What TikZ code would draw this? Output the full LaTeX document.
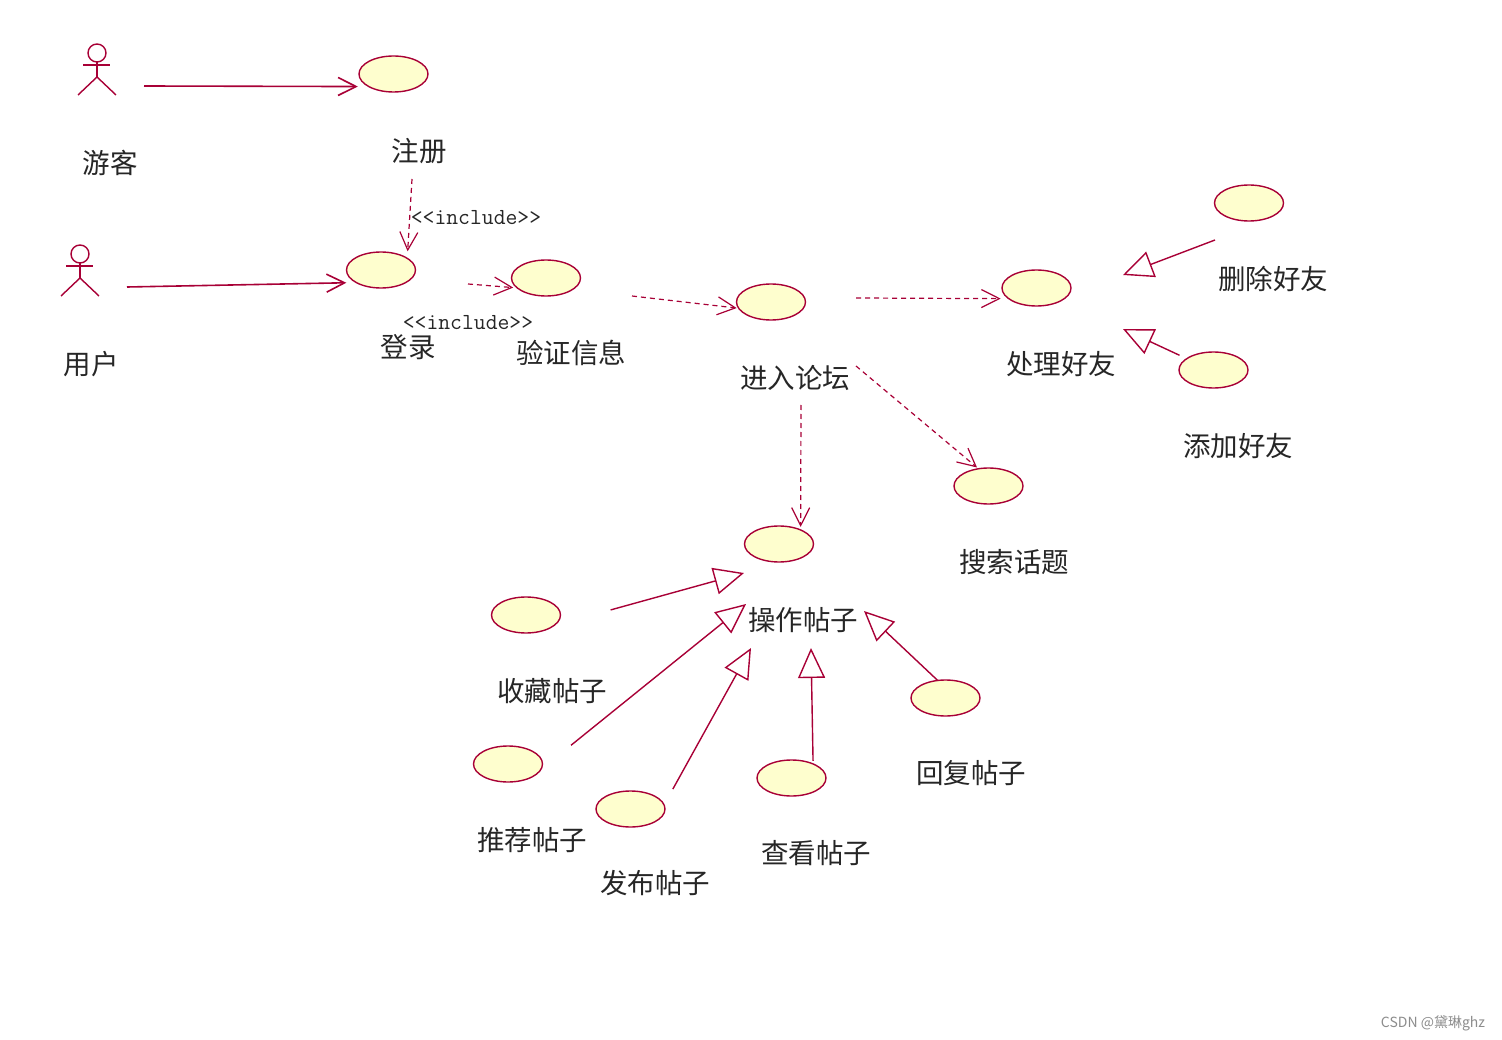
\documentclass[tikz,border=0pt]{standalone}
\usepackage{fontspec}
\newfontfamily\cjk{Noto Sans CJK SC}
\usepackage{xcolor}
\usetikzlibrary{arrows.meta}
\usetikzlibrary{shapes.geometric}
\definecolor{umlred}{HTML}{A80036}
\definecolor{umlfill}{HTML}{FEFECE}
\begin{document}
\begin{tikzpicture}[x=1pt,y=1pt]
\tikzset{umlline/.style={draw=umlred,line width=1.4pt}}
\tikzset{usecase/.style={ellipse,umlline,fill=umlfill,minimum width=69pt,minimum height=36pt,inner sep=0pt,outer sep=0pt}}
\tikzset{head/.style={circle,umlline,minimum size=18pt,inner sep=0pt,outer sep=0pt}}
\tikzset{caption/.style={inner sep=0pt,text=black!85,font=\fontsize{27.5}{27.5}\selectfont\cjk}}
\tikzset{stereo/.style={inner sep=0pt,text=black!85,font=\fontsize{23}{23}\selectfont\ttfamily}}
\tikzset{assoc/.style={color=umlred,line width=1.6pt,-{Straight Barb[length=18pt,width=18pt]}}}
\tikzset{dep/.style={assoc,dash pattern=on 5pt off 4pt,line width=1.2pt}}
\tikzset{gen/.style={color=umlred,line width=1.4pt,-{Triangle[open,length=30pt,width=27pt]}}}
\useasboundingbox (0,0) rectangle (1502,-1040);
\foreach \n/\x/\y in {visitor/97/-53,member/80/-254}{
  \node[head] (\n) at (\x,\y) {};
  \draw[umlline] (\n.south) -- ++(0,-15) coordinate (\n b);
  \draw[umlline] (\x-14,\y-12) -- (\x+13,\y-12);
  \draw[umlline] (\n b) -- ++(-19,-18) (\n b) -- ++(19,-18);
}
\node[usecase] (reg) at (393.5,-74) {};
\node[usecase] (login) at (381,-270) {};
\node[usecase] (verify) at (546,-278) {};
\node[usecase] (forum) at (771,-302) {};
\node[usecase] (friend) at (1036.5,-288) {};
\node[usecase] (del) at (1249,-203) {};
\node[usecase] (add) at (1213.5,-370) {};
\node[usecase] (search) at (988.5,-486) {};
\node[usecase] (post) at (779,-544) {};
\node[usecase] (fav) at (526,-615) {};
\node[usecase] (rec) at (508,-764) {};
\node[usecase] (pub) at (630.5,-809) {};
\node[usecase] (view) at (791.5,-778) {};
\node[usecase] (reply) at (945.5,-698) {};
\node[caption] (t0) at (110,-163) {游客};
\node[caption] (t1) at (419,-151) {注册};
\node[caption] (t2) at (91,-364) {用户};
\node[caption] (t3) at (408,-347) {登录};
\node[caption] (t4) at (571,-353) {验证信息};
\node[caption] (t5) at (795,-378) {进入论坛};
\node[caption] (t6) at (1061,-364) {处理好友};
\node[caption] (t7) at (1273,-279) {删除好友};
\node[caption] (t8) at (1238,-446) {添加好友};
\node[caption] (t9) at (1014,-562) {搜索话题};
\node[caption] (t10) at (803,-620) {操作帖子};
\node[caption] (t11) at (552,-691) {收藏帖子};
\node[caption] (t12) at (532,-840) {推荐帖子};
\node[caption] (t13) at (655,-883) {发布帖子};
\node[caption] (t14) at (816,-853) {查看帖子};
\node[caption] (t15) at (971,-773) {回复帖子};
\node[stereo] (s0) at (476,-218) {<<include>>};
\node[stereo] (s1) at (468,-323) {<<include>>};
\node[inner sep=0pt,text=black!45,font=\fontsize{14}{14}\selectfont\cjk] (mark) at (1433,-1023) {CSDN @黛琳ghz};
\coordinate (a0) at (144,-86);
\coordinate (a1) at (127,-287);
\coordinate (d0) at (412,-179);
\coordinate (d1) at (468,-284);
\coordinate (d2) at (632,-296);
\coordinate (d3) at (856,-298);
\coordinate (d4) at (856,-366);
\coordinate (d5) at (801,-405);
\coordinate (g0) at (1215,-240);
\coordinate (g1) at (1123,-275);
\coordinate (g2) at (1123,-329);
\coordinate (g3) at (744,-573);
\coordinate (g4) at (746,-604);
\coordinate (g5) at (751,-648);
\coordinate (g6) at (811,-648);
\coordinate (g7) at (864,-611);
\path[assoc] (a0) edge[shorten >=11pt] (reg.207);
\path[assoc] (a1) edge[shorten >=10pt] (login.207);
\path[dep] (d0) edge[shorten >=7pt] (login.24);
\path[dep] (d1) edge[shorten >=4pt] (verify.199);
\path[dep] (d2) edge[shorten >=2pt] (forum.191);
\path[dep] (d3) edge[shorten >=8pt] (friend.201);
\path[dep] (d4) edge[shorten >=2pt] (search.120);
\path[dep] (d5) edge[shorten >=3pt] (post.33);
\path[gen] (g0) edge (g1);
\path[gen] (add.157) edge[shorten <=8pt] (g2);
\path[gen] (fav.-21) edge[shorten <=59pt] (g3);
\path[gen] (rec.-10) edge[shorten <=39pt] (g4);
\path[gen] (pub.7) edge[shorten <=18pt] (g5);
\path[gen] (view.33) edge[shorten <=3pt] (g6);
\path[gen] (reply.114) edge (g7);
\end{tikzpicture}
\end{document}
